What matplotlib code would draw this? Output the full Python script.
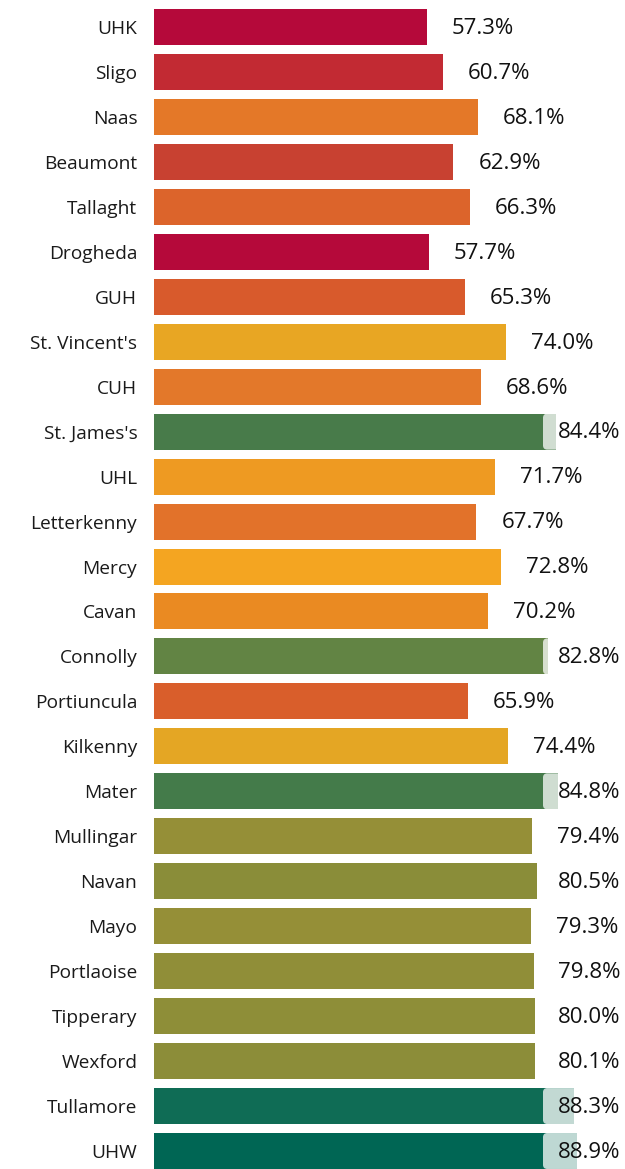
import numpy as np
import matplotlib.pyplot as plt
from matplotlib.patches import FancyBboxPatch

# Data
hospitals = ["UHK", "Sligo", "Naas", "Beaumont", "Tallaght", "Drogheda", "GUH",
             "St. Vincent's", "CUH", "St. James's", "UHL", "Letterkenny", "Mercy",
             "Cavan", "Connolly", "Portiuncula", "Kilkenny", "Mater", "Mullingar",
             "Navan", "Mayo", "Portlaoise", "Tipperary", "Wexford", "Tullamore", "UHW"]
values = [57.3, 60.7, 68.1, 62.9, 66.3, 57.7, 65.3, 74.0, 68.6, 84.4, 71.7, 67.7, 72.8,
          70.2, 82.8, 65.9, 74.4, 84.8, 79.4, 80.5, 79.3, 79.8, 80.0, 80.1, 88.3, 88.9]
colors = ["#B5093A", "#C22A33", "#E47828", "#C84131", "#DC642B", "#B5093A", "#D85A2C",
          "#E8A623", "#E3782A", "#487B4A", "#EE9A22", "#E2722A", "#F4A521", "#EA8A22",
          "#628444", "#D95E2B", "#E4A624", "#447B4A", "#958F37", "#8A8D39", "#958F37",
          "#908E38", "#8E8E38", "#8C8D39", "#0F6C55", "#006654"]

W, H = 625, 1169
px_x = 4.76      # pixels per percent
px_y = 44.96     # pixels per category slot

plt.rcParams['font.family'] = ['Open Sans', 'DejaVu Sans']
fig = plt.figure(figsize=(W / 100, H / 100), dpi=100)
ax = fig.add_axes([154 / W, 0, 1 - 154 / W, 1])

y = np.arange(len(hospitals))
ax.barh(y, values, height=0.8, color=colors, zorder=2)

ax.set_xlim(0, (W - 154) / px_x)
ax.set_ylim((H - 27) / px_y, -27 / px_y)

ax.set_yticks(y)
ax.set_yticklabels(hospitals, fontsize=13.8, color="#1a1a1a")
ax.tick_params(axis='y', length=0, pad=12)
ax.set_xticks([])
for s in ax.spines.values():
    s.set_visible(False)

# value labels, pulled back inside the chart when they would overflow
for i, v in enumerate(values):
    tx = min(v * px_x + 25, 558 - 154) / px_x
    box = FancyBboxPatch((tx - 15 / px_x, i - 0.4), 80 / px_x, 0.8,
                         boxstyle="round,pad=0,rounding_size=0.9",
                         mutation_aspect=(4 / px_y) / (4 / px_x),
                         fc="white", ec="none", alpha=0.75, zorder=3)
    ax.add_patch(box)
    ax.text(tx, i + 0.03, f"{v:.1f}%", va='center', ha='left', fontsize=16,
            color="#111111", zorder=4)

fig.savefig("out.png", dpi=100)
